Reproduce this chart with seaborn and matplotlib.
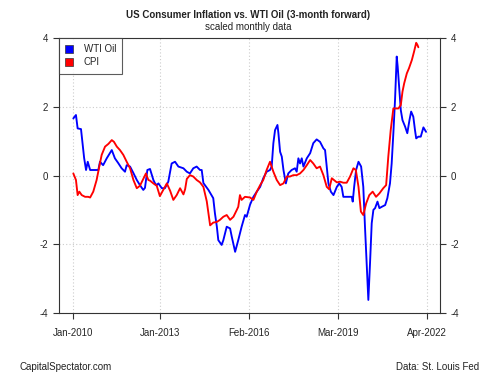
import numpy as np
import pandas as pd
import matplotlib
matplotlib.use("Agg")
import matplotlib.pyplot as plt
import matplotlib.dates as mdates
from matplotlib.patches import Patch
import seaborn as sns

# months since Jan-2010 and scaled values
wti_t = [0.0,1.1,1.8,3.2,4.5,5.3,6.0,7.0,10.4,11.1,12.4,13.9,16.0,17.3,18.7,20.1,21.5,22.2,23.6,25.0,
         26.4,27.7,29.1,29.8,30.8,31.9,33.3,34.0,34.7,35.4,36.8,38.1,39.5,40.9,42.3,43.7,45.8,47.2,48.5,49.9,
         51.3,52.7,53.4,54.1,56.2,58.2,58.9,59.7,60.3,61.7,62.4,63.8,65.2,65.9,67.3,68.6,70.0,71.4,72.1,73.5,
         74.9,76.3,77.7,79.0,80.4,81.8,82.5,83.2,83.9,84.9,85.3,86.0,86.7,87.4,88.4,89.4,90.8,92.2,92.9,93.6,
         94.3,95.0,95.7,97.1,98.5,99.8,101.2,102.6,104.0,104.7,105.4,106.1,107.1,108.2,109.6,110.6,111.6,112.3,114.4,115.8,
         116.2,116.8,117.6,118.6,119.7,120.6,121.3,122.0,122.7,123.4,124.1,124.8,125.5,126.5,127.3,128.3,129.7,130.6,131.7,132.4,
         133.1,133.8,134.5,134.9,135.5,136.2,136.9,138.0,138.9,139.8,140.5,141.4,142.1,142.6,143.5,144.5,145.6,146.3,146.7]
wti_v = [1.66,1.76,1.37,1.35,0.51,0.16,0.40,0.16,0.16,0.40,0.30,0.50,0.74,0.50,0.36,0.21,0.11,0.30,0.26,0.07,
         -0.13,-0.28,-0.42,-0.36,0.16,0.19,-0.13,-0.23,-0.28,-0.23,-0.37,-0.37,-0.18,0.35,0.40,0.26,0.21,0.11,0.06,0.21,
         0.26,0.16,0.16,-0.22,-0.42,-0.66,-1.10,-1.49,-1.88,-2.02,-1.88,-1.49,-1.54,-1.78,-2.22,-1.88,-1.49,-1.15,-1.20,-0.85,
         -0.62,-0.47,-0.33,-0.08,0.11,0.16,0.26,0.94,1.32,1.47,1.23,0.69,0.55,0.16,-0.23,0.06,0.16,0.21,0.11,0.50,
         0.35,0.50,0.26,0.50,0.65,0.94,1.05,0.98,0.79,0.74,0.26,-0.23,-0.47,-0.57,-0.33,-0.23,-0.33,-0.62,-0.62,-0.62,
         -0.76,-0.33,0.16,0.40,0.26,-0.33,-1.49,-2.55,-3.62,-2.55,-1.39,-1.00,-0.95,-0.76,-0.95,-0.91,-0.86,-0.66,-0.23,0.35,
         1.23,2.20,3.46,3.17,2.58,1.90,1.61,1.42,1.23,1.61,1.86,1.71,1.32,1.08,1.13,1.13,1.40,1.32,1.27]

cpi_t = [0.0,1.1,1.8,2.5,3.5,4.9,6.2,7.0,8.3,9.7,10.8,11.8,13.2,14.6,16.0,16.9,18.1,19.4,20.8,22.2,
         23.6,25.0,26.4,27.7,29.1,30.2,31.2,31.9,33.3,34.7,36.0,37.4,38.9,40.3,41.6,43.0,44.4,45.8,46.5,47.2,
         48.5,49.9,51.3,52.7,54.1,55.5,56.2,56.9,58.2,59.7,61.0,62.4,63.8,65.2,66.6,68.0,68.6,69.3,70.0,71.4,
         73.5,74.9,76.3,77.7,79.0,80.4,81.8,83.2,84.6,86.0,87.4,88.8,90.1,91.5,92.9,94.3,95.7,97.1,98.5,99.8,
         101.2,102.6,104.0,105.4,106.4,107.5,109.6,110.9,112.3,113.7,115.1,116.5,117.5,118.6,119.6,120.6,121.8,123.1,124.5,125.9,
         127.3,128.9,130.1,131.0,132.0,133.1,134.2,135.2,136.2,136.9,137.6,138.7,139.6,140.8,141.7,142.6,143.1,143.5]
cpi_v = [0.06,-0.13,-0.57,-0.47,-0.57,-0.62,-0.62,-0.64,-0.47,-0.13,0.26,0.60,0.84,0.92,1.03,0.98,0.84,0.74,0.60,0.40,
         0.21,-0.13,-0.37,-0.30,-0.10,0.06,-0.13,-0.15,-0.23,-0.30,-0.60,-0.42,-0.23,-0.45,-0.71,-0.57,-0.37,-0.55,-0.40,-0.10,
         0.01,-0.03,-0.13,-0.20,-0.33,-0.75,-1.10,-1.45,-1.37,-1.35,-1.29,-1.20,-1.15,-1.29,-1.20,-1.00,-0.91,-0.57,-0.71,-0.62,
         -0.64,-0.71,-0.47,-0.28,-0.13,0.16,0.40,0.11,-0.13,-0.28,-0.23,-0.03,-0.03,0.01,0.01,0.06,0.16,0.30,0.45,0.35,
         0.21,0.26,0.01,-0.33,-0.40,-0.08,-0.20,-0.18,-0.21,-0.21,-0.03,0.21,0.16,-0.33,-1.05,-1.15,-0.81,-0.57,-0.47,-0.62,
         -0.52,-0.37,-0.28,0.55,1.32,1.95,1.95,1.95,2.05,2.44,2.68,2.97,3.12,3.36,3.60,3.86,3.80,3.73]

series_names = ["WTI Oil", "CPI"]
series_colors = ["#0000FF", "#FF0000"]
tick_dates = ["2010-01-01", "2013-01-01", "2016-02-01", "2019-03-01", "2022-04-01"]
tick_labels = ["Jan-2010", "Jan-2013", "Feb-2016", "Mar-2019", "Apr-2022"]
y_ticks = [-4, -2, 0, 2, 4]

base = pd.Timestamp("2010-01-01")
def to_date(t):
    return [base + pd.Timedelta(days=float(x) * 30.4375) for x in t]

df = pd.concat([
    pd.DataFrame({"date": to_date(wti_t), "value": wti_v, "series": series_names[0]}),
    pd.DataFrame({"date": to_date(cpi_t), "value": cpi_v, "series": series_names[1]}),
], ignore_index=True)

sns.set_style("white")
plt.rcParams["font.family"] = ["Liberation Sans", "DejaVu Sans"]

fig = plt.figure(figsize=(5, 3.75), dpi=100)
ax = fig.add_axes([59/500, 1 - 313/375, (440 - 59)/500, (313 - 38)/375])

sns.lineplot(data=df, x="date", y="value", hue="series", palette=dict(zip(series_names, series_colors)),
             linewidth=1.35, ax=ax, legend=False, sort=False, estimator=None)

xmin = base + pd.Timedelta(days=-5.95 * 30.4375)
xmax = base + pd.Timedelta(days=152.5 * 30.4375)
ax.set_xlim(xmin, xmax)
ax.set_ylim(-4, 4)

td = [pd.Timestamp(d) for d in tick_dates]
ax.set_xticks(td)
ax.set_xticklabels(tick_labels)
ax.set_yticks(y_ticks)
ax.set_yticklabels([str(v) for v in y_ticks])
ax.set_xlabel("")
ax.set_ylabel("")

ax.tick_params(axis="both", direction="out", length=4.3, width=0.8, color="#333333",
               labelsize=7, pad=3.5, left=True, bottom=True)
ax.tick_params(axis="y", right=True, labelright=True)
ax.tick_params(axis="x", pad=6.5)

for sp in ax.spines.values():
    sp.set_visible(True)
    sp.set_color("#333333")
    sp.set_linewidth(0.8)

for d in td:
    ax.axvline(d, color="#cccccc", linestyle=(0, (1, 2)), linewidth=0.8, zorder=0)
for v in y_ticks:
    ax.axhline(v, color="#cccccc", linestyle=(0, (1, 2)), linewidth=0.8, zorder=0)

handles = [Patch(facecolor=c, edgecolor="#333333", linewidth=0.5, label=n) for n, c in zip(series_names, series_colors)]
leg = ax.legend(handles=handles, loc="upper left", bbox_to_anchor=(0, 1), borderaxespad=0,
                fontsize=7, frameon=True, fancybox=False, handlelength=0.8, handleheight=0.8,
                handletextpad=1.1, borderpad=0.65, labelspacing=0.3)
leg.get_frame().set_edgecolor("#333333")
leg.get_frame().set_linewidth(0.8)

fig.text(0.496, 1 - 15/375, "US Consumer Inflation vs. WTI Oil (3-month forward)", ha="center", va="center",
         fontsize=7, fontweight="bold", color="#222222")
fig.text(0.496, 1 - 27/375, "scaled monthly data", ha="center", va="center", fontsize=7, color="#222222")
fig.text(20/500, 1 - 367/375, "CapitalSpectator.com", ha="left", va="center", fontsize=7, color="#222222")
fig.text(479/500, 1 - 367/375, "Data: St. Louis Fed", ha="right", va="center", fontsize=7, color="#222222")

fig.savefig("out.png", dpi=100, facecolor="white")
